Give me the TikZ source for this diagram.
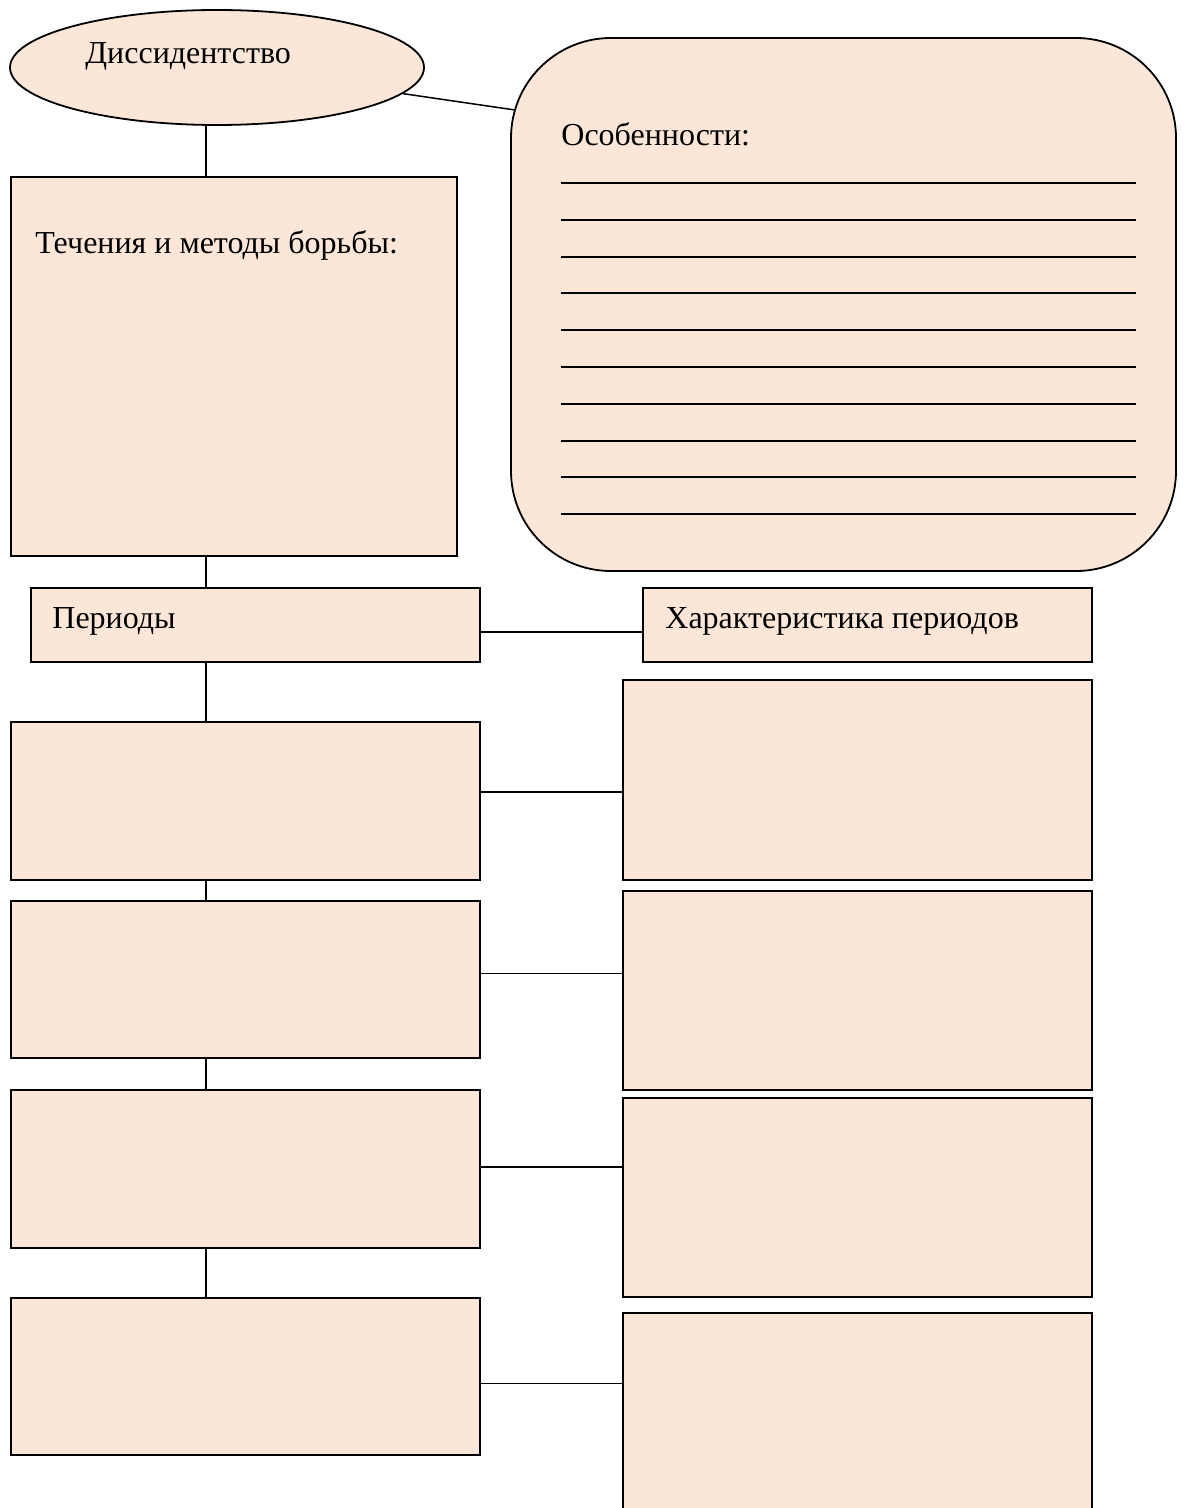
\documentclass[tikz,border=0pt]{standalone}
\usepackage{fontspec}
\setmainfont{Liberation Serif}
\usetikzlibrary{positioning,shapes.geometric}
\definecolor{peach}{HTML}{FBE6D7}

\begin{document}
\begin{tikzpicture}[
  x=0.5pt, y=-0.5pt,
  cell/.style={draw, rectangle, fill=peach, line width=0.9pt, inner sep=0pt},
  oval/.style={draw, ellipse, fill=peach, line width=0.9pt, inner sep=0pt,
               minimum width=207pt, minimum height=57.5pt},
  note/.style={cell, rounded corners=50pt},
  lbl/.style={inner sep=0pt, anchor=base west, font=\fontsize{16}{19}\selectfont},
  rule/.style={line width=1pt},
  link/.style={line width=0.75pt}
]
\useasboundingbox (0,0) rectangle (1188,1508);
\clip (0,0) rectangle (1188,1508);
\coordinate (spine) at (206,0);

% top part
\node[oval] (diss) at (217,67.5) {};
\node[cell, minimum width=223pt, minimum height=189.5pt] (flow) at (234,366.5) {};
\node[note, minimum width=332.5pt, minimum height=266.5pt] (feat) at (843.5,304.5) {};
\coordinate (tip) at (515,110);

\node[lbl] (tdiss) at (85,64) {Диссидентство};
\node[lbl] (tflow) at (35,254) {Течения и методы борьбы:};
\node[lbl] (tfeat) at (561,146) {Особенности:};
\foreach \i in {0,...,9}
  \draw[rule] (561,{183+36.8*\i}) -- (1136,{183+36.8*\i});

% periods
\node[cell, minimum width=224.5pt, minimum height=37pt] (per) at (255.5,625) {};
\node[cell, minimum width=224.5pt, minimum height=37pt] (chr) at (867.5,625) {};
\node[lbl] (tper) at (52,628) {Периоды};
\node[lbl] (tchr) at (665,628) {Характеристика периодов};

\node[cell, minimum width=234.5pt, minimum height=79pt]   (p1) at (245.5,801) {};
\node[cell, minimum width=234.5pt, minimum height=78.5pt] (p2) at (245.5,979.5) {};
\node[cell, minimum width=234.5pt, minimum height=79pt]   (p3) at (245.5,1169) {};
\node[cell, minimum width=234.5pt, minimum height=78.5pt] (p4) at (245.5,1376.5) {};

\node[cell, minimum width=234.5pt, minimum height=100pt]   (c1) at (857.5,780) {};
\node[cell, minimum width=234.5pt, minimum height=99.5pt]  (c2) at (857.5,990.5) {};
\node[cell, minimum width=234.5pt, minimum height=99.5pt]  (c3) at (857.5,1197.5) {};
\node[cell, minimum width=234.5pt, minimum height=123.5pt] (c4) at (857.5,1436.5) {};

% connectors
\draw[link] (diss.south -| spine) -- (flow.north -| spine);
\draw[link] (diss.-8) -- (tip);
\draw[link] (flow.south -| spine) -- (per.north -| spine);
\draw[link] ([yshift=-3.5pt]per.east) -- ([yshift=-3.5pt]chr.west);
\draw[link] (per.south -| spine) -- (p1.north -| spine);
\draw[link] (p1.south -| spine) -- (p2.north -| spine);
\draw[link] (p2.south -| spine) -- (p3.north -| spine);
\draw[link] (p3.south -| spine) -- (p4.north -| spine);
\draw[link] ([yshift=4.5pt]p1.east) -- ([yshift=4.5pt]p1.east -| c1.west);
\draw[link] ([yshift=3pt]p2.east) -- ([yshift=3pt]p2.east -| c2.west);
\draw[link] ([yshift=1pt]p3.east) -- ([yshift=1pt]p3.east -| c3.west);
\draw[link] ([yshift=-3.5pt]p4.east) -- ([yshift=-3.5pt]p4.east -| c4.west);
\end{tikzpicture}
\end{document}
